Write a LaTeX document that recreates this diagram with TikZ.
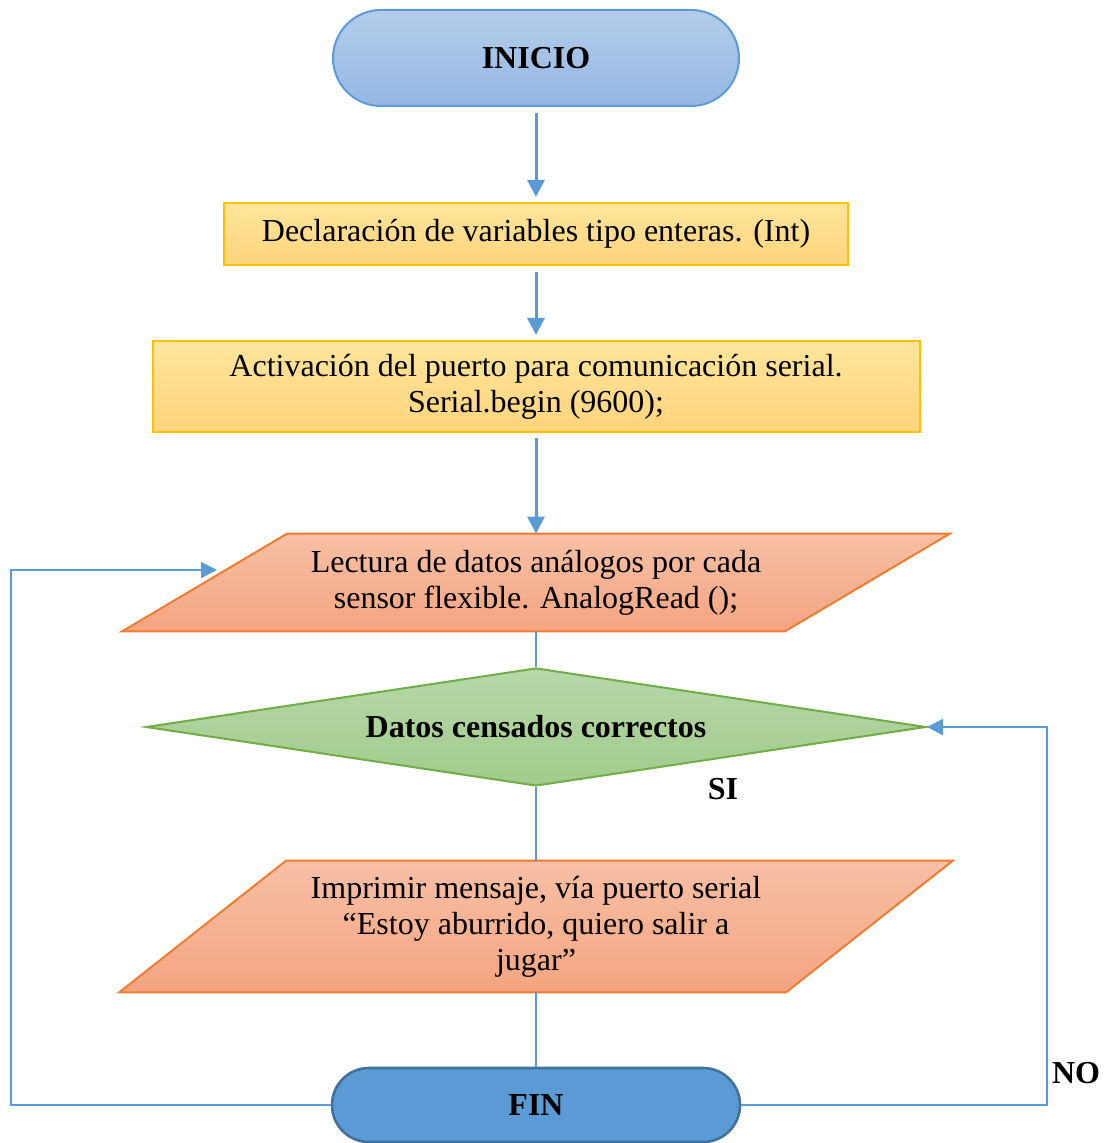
\documentclass[tikz,border=0pt]{standalone}
\usepackage{fontspec}
\setmainfont{Liberation Serif}
\usetikzlibrary{shapes.misc,shapes.geometric,arrows.meta,backgrounds}

\definecolor{azul}{HTML}{5B9BD5}
\definecolor{azulOsc}{HTML}{41719C}
\definecolor{iniTop}{HTML}{B4CCEA}
\definecolor{iniBot}{HTML}{94B8E3}
\definecolor{amaTop}{HTML}{FEE59C}
\definecolor{amaBot}{HTML}{FFD47C}
\definecolor{amaBorde}{HTML}{FFC000}
\definecolor{narTop}{HTML}{F7C0A6}
\definecolor{narBot}{HTML}{F4A480}
\definecolor{narBorde}{HTML}{ED7D31}
\definecolor{verTop}{HTML}{B7D8A9}
\definecolor{verBot}{HTML}{A1CB8B}
\definecolor{verBorde}{HTML}{70AD47}

\tikzset{
  txt/.style={font=\fontsize{16}{18}\selectfont, align=center, inner sep=0pt},
  negrita/.style={font=\fontsize{16}{18}\selectfont\bfseries, align=center, inner sep=0pt},
  terminal/.style={negrita, rounded rectangle, line width=1pt},
  proceso/.style={txt, rectangle, draw=amaBorde, line width=1pt,
    top color=amaTop, bottom color=amaBot},
  datosio/.style={draw=narBorde, line width=1pt, top color=narTop, bottom color=narBot},
  decision/.style={negrita, diamond, draw=verBorde, line width=1pt,
    top color=verTop, bottom color=verBot},
  flujo/.style={azul, line width=1.5pt, ->, shorten <=3pt, shorten >=2.5pt},
  union/.style={azul, line width=1pt},
  lazo/.style={azul, line width=1pt, ->, >={Triangle[length=8pt,width=8pt]}}
}

\begin{document}
\begin{tikzpicture}[x=0.5pt,y=-0.5pt,>={Triangle[length=8.5pt,width=8.5pt]}]
  \useasboundingbox (0,0) rectangle (1106,1143);

  \node[terminal, draw=azul, top color=iniTop, bottom color=iniBot,
        minimum width=203pt, minimum height=48pt] (ini) at (536,58) {INICIO};
  \node[proceso, minimum width=312pt, minimum height=31pt] (decl) at (536,234)
    {Declaración de variables tipo enteras. (Int)};
  \node[proceso, minimum width=383.5pt, minimum height=45.5pt] (serie) at (536,386.5)
    {Activación del puerto para comunicación serial.\\Serial.begin (9600);};

  % entradas / salidas (paralelogramos)
  \node[txt, minimum width=331pt, minimum height=48.5pt] (lect) at (536,582.5)
    {Lectura de datos análogos por cada\\sensor flexible. AnalogRead ();};
  \node[decision, minimum width=390pt, minimum height=59pt, aspect=6.6] (dat) at (536,727)
    {Datos censados correctos};
  \node[txt, minimum width=333pt, minimum height=65.5pt] (impr) at (536,926.5)
    {Imprimir mensaje, vía puerto serial\\“Estoy aburrido, quiero salir a\\jugar”};
  \node[terminal, draw=azulOsc, fill=azul, line width=1.3pt,
        minimum width=204pt, minimum height=37pt] (fin) at (536,1105) {FIN};

  \begin{scope}[on background layer]
    \path[datosio] ([xshift=41.25pt]lect.north west) -- ([xshift=41.25pt]lect.north east)
      -- ([xshift=-41.25pt]lect.south east) -- ([xshift=-41.25pt]lect.south west) -- cycle;
    \path[datosio] ([xshift=41.75pt]impr.north west) -- ([xshift=41.75pt]impr.north east)
      -- ([xshift=-41.75pt]impr.south east) -- ([xshift=-41.75pt]impr.south west) -- cycle;
  \end{scope}

  \node[negrita] (si) at (723,789) {SI};
  \node[negrita] (no) at (1076,1073) {NO};

  \draw[flujo] (ini) -- (decl);
  \draw[flujo] (decl) -- (serie);
  \draw[flujo, shorten <=2.5pt, shorten >=0pt] (serie) -- (lect);
  \draw[union] (lect.south) -- (dat.north);
  \draw[union] (dat.south) -- (impr.north);
  \draw[union] (impr.south) -- (fin.north);

  % lazos de retorno
  \coordinate (izq) at (11,570);
  \coordinate (lectIn) at (217,570);
  \draw[lazo] (fin.west) -| (izq) -- (lectIn);
  \coordinate (der) at (1047,727);
  \draw[lazo] (fin.east) -| (der) -- (dat.east);
\end{tikzpicture}
\end{document}
